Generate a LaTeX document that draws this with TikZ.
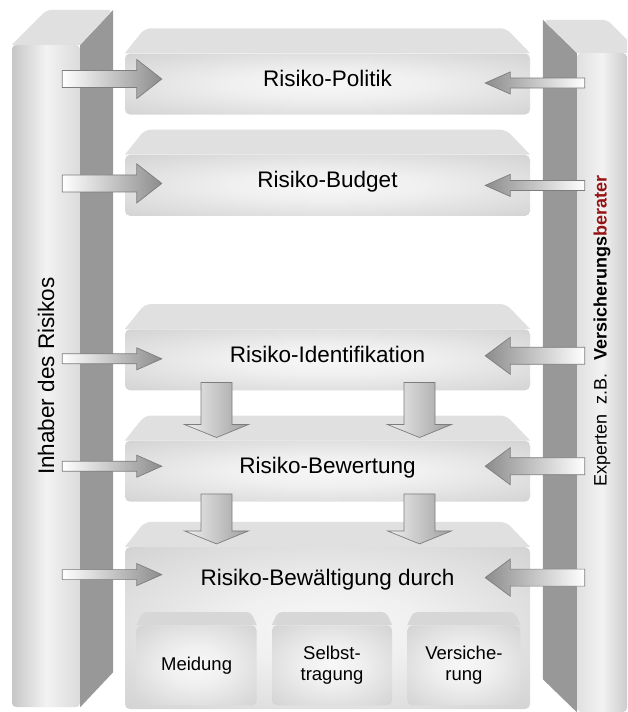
\documentclass[tikz,border=0pt]{standalone}
\usepackage{fontspec}
\setmainfont{Liberation Sans}
\usepackage{tikz}
\usetikzlibrary{positioning,calc}

\definecolor{facetop}{RGB}{224,224,224}
\definecolor{faceside}{RGB}{152,152,152}
\definecolor{arrline}{RGB}{125,125,125}
\definecolor{darkred}{RGB}{150,20,20}
\pgfdeclareradialshading{glow}{\pgfpoint{0bp}{0bp}}{color(0bp)=(black!3); color(12bp)=(black!6); color(35bp)=(black!17); color(50bp)=(black!22); color(72bp)=(black!24)}

\begin{document}
\begin{tikzpicture}[
  x=1pt, y=-1pt,
  node distance=40pt,
  box/.style={shade, shading=glow, rounded corners=5pt, minimum width=405pt, inner sep=0pt,
    text height=33pt, text depth=28pt, font=\fontsize{22.5}{27}\selectfont},
  subbox/.style={shade, shading=glow, rounded corners=5pt, minimum width=120pt, minimum height=80pt,
    align=center, font=\fontsize{18.5}{21.5}\selectfont},
  pillar/.style={rounded corners=4pt, inner sep=0pt},
  blockarr/.style={draw=arrline, line width=0.7pt},
  harr/.style 2 args={to path={let \p1=(\tikztostart), \p2=(\tikztotarget), \n1={25*sign(\x2-\x1)} in
    (\x1,\y1+#1) -- ({\x2-\n1*1pt},\y1+#1) -- ({\x2-\n1*1pt},\y1+#2) -- (\x2,\y1)
    -- ({\x2-\n1*1pt},\y1-#2) -- ({\x2-\n1*1pt},\y1-#1) -- (\x1,\y1-#1) -- cycle}},
  varr/.style 2 args={to path={let \p1=(\tikztostart), \p2=(\tikztotarget), \n1={13*sign(\y2-\y1)} in
    (\x1+#1,\y1) -- (\x1+#1,{\y2-\n1*1pt}) -- (\x1+#2,{\y2-\n1*1pt}) -- (\x1,\y2)
    -- (\x1-#2,{\y2-\n1*1pt}) -- (\x1-#1,{\y2-\n1*1pt}) -- (\x1-#1,\y1) -- cycle}},
  toright/.style={left color=white, right color=black!45},
  toleft/.style={left color=black!45, right color=white},
  todown/.style={left color=black!6, right color=black!38}
]
\useasboundingbox (0,0) rectangle (627,712);

% left pillar
\node[pillar, minimum width=68pt, minimum height=662pt, left color=black!22, right color=black!14,
  middle color=black!5, font=\fontsize{22.5}{27}\selectfont] (inhaber) at (46,376)
  {\rotatebox{90}{Inhaber des Risikos}};
\fill[faceside] (inhaber.north east) -- ++(33,-35) -- ($(inhaber.south east)+(33,-35)$) -- (inhaber.south east) -- cycle;
\fill[facetop] (inhaber.north west) [rounded corners=5pt] -- ++(35,-35) -- ($(inhaber.north east)+(33,-35)$)
  [sharp corners] -- (inhaber.north east) -- cycle;

% right pillar
\node[pillar, minimum width=50pt, minimum height=659pt, left color=black!12, right color=black!20,
  middle color=black!5, font=\fontsize{18}{21}\selectfont] (experten) at (602,382.5)
  {\rotatebox{90}{\hspace*{103pt}Experten\hspace{10pt}z.B.\hspace{13pt}\textbf{Versicherungs\textcolor{darkred}{berater}}}};
\fill[faceside] (experten.north west) -- ++(-34,-33) -- ($(experten.south west)+(-34,-33)$) -- (experten.south west) -- cycle;
\fill[facetop] (experten.north west) [rounded corners=5pt] -- ++(-34,-33) -- ($(experten.north east)+(-20,-33)$)
  [sharp corners] -- ($(experten.north east)+(0,-13)$) -- (experten.north east) -- cycle;

% the steps
\node[box] (politik) at (327.5,84) {Risiko-Politik};
\node[box, below=of politik] (budget) {Risiko-Budget};
\node[box, below=113pt of budget] (ident) {Risiko-Identifikation};
\node[box, below=50pt of ident] (bewert) {Risiko-Bewertung};
\node[box, below=45pt of bewert, text height=38pt, text depth=124pt] (bewaelt) {Risiko-Bewältigung durch};
\foreach \stp in {politik,budget,ident,bewert,bewaelt}
  \fill[facetop] (\stp.north west) [rounded corners=6pt] -- ++(20,-25) -- ($(\stp.north east)+(-24,-25)$)
    [sharp corners] -- (\stp.north east) -- cycle;

\node[subbox] (selbst) at ($(bewaelt.south)+(4.5,-44)$) {Selbst-\\tragung};
\node[subbox, left=15pt of selbst] (meid) {Meidung};
\node[subbox, right=15pt of selbst, minimum width=113pt] (versich) {Versiche-\\rung};
\foreach \stp in {meid,selbst,versich}
  \fill[facetop!96!black] (\stp.north west) [rounded corners=4pt] -- ++(6,-13) -- ($(\stp.north east)+(-6,-13)$)
    [sharp corners] -- (\stp.north east) -- cycle;

% arrows from the owner and from the experts
\foreach \stp/\dy/\sh/\hd in {politik/-5/8.5/19.5, budget/-2/8.5/19.5, ident/-1/5/11, bewert/-5/5/11, bewaelt/-53.5/5/11}
  \draw[blockarr, harr={\sh pt}{\hd pt}, toright] ($(inhaber.east |- \stp.center)+(-18,\dy)$) to ($(\stp.west)+(37,\dy)$);
\foreach \stp/\dy/\sh/\hd in {politik/-1/5/11, budget/0/5/11, ident/-4/8.5/18.5, bewert/-5/8.5/18.5, bewaelt/-50.5/8.5/18.5}
  \draw[blockarr, harr={\sh pt}{\hd pt}, toleft] ($(experten.west |- \stp.center)+(8,\dy)$) to ($(\stp.east)+(-45,\dy)$);

% flow down between the steps
\foreach \stp/\nxt in {ident/bewert, bewert/bewaelt}
  \foreach \dx in {-111,92}
    \draw[blockarr, varr={15.5pt}{32pt}, todown] ($(\stp.south)+(\dx,-8)$) to ($(\nxt.north)+(\dx,-3)$);
\end{tikzpicture}
\end{document}
